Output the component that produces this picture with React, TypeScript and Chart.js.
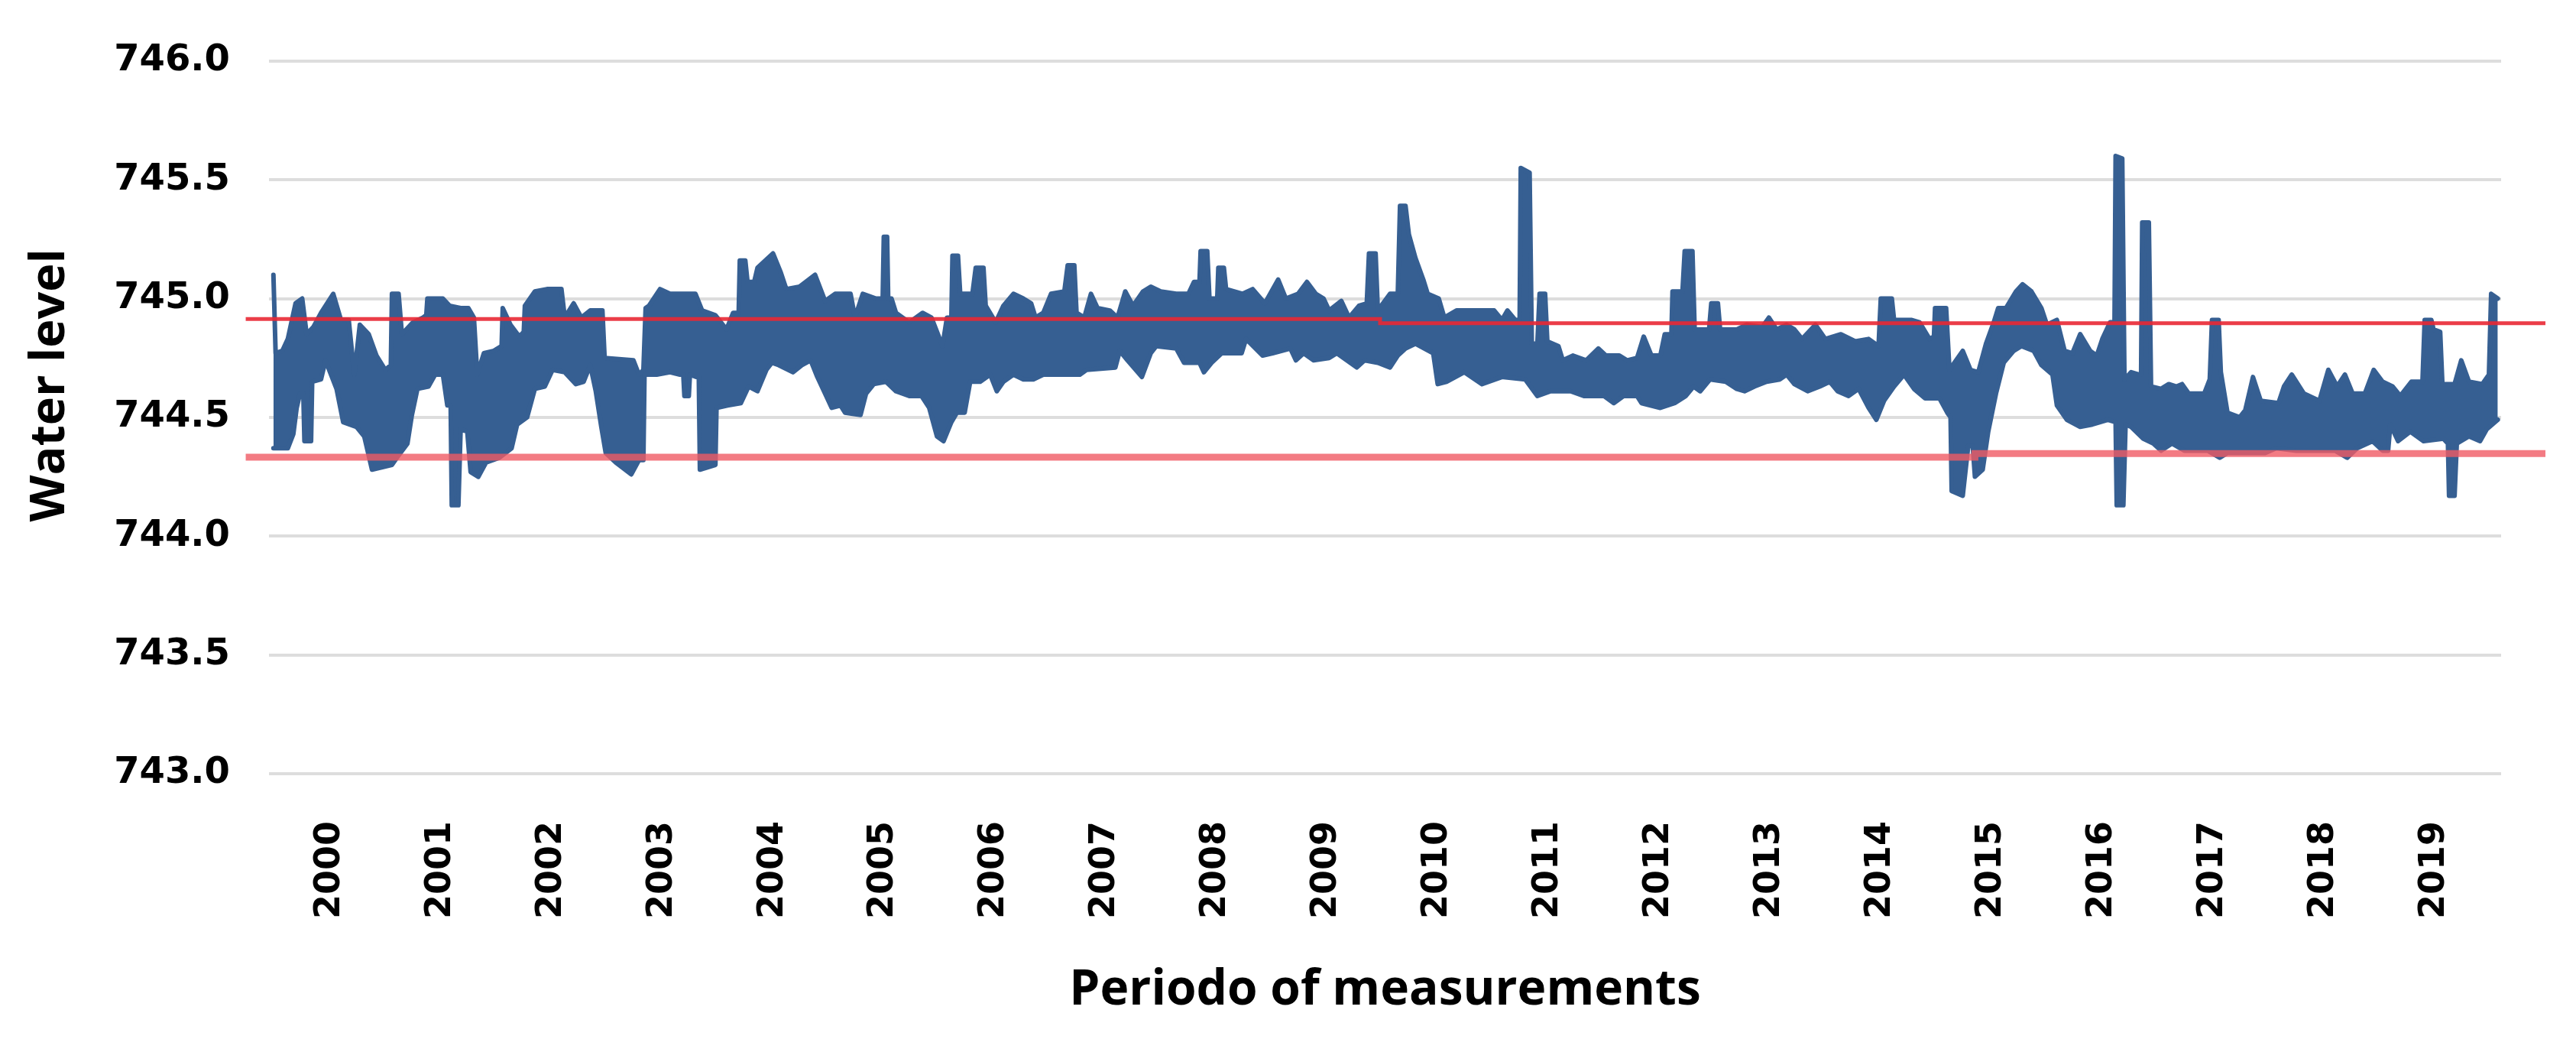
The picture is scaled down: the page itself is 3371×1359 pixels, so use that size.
import React, { useEffect, useRef } from 'react';
import { Chart, registerables } from 'chart.js';

Chart.register(...registerables);

// X axis: one category per year, label centred in the year
const yearLabels = ['2000', '2001', '2002', '2003', '2004', '2005', '2006', '2007', '2008', '2009',
  '2010', '2011', '2012', '2013', '2014', '2015', '2016', '2017', '2018', '2019'];
const firstYear = 2000;
const xMin = 1999.95;
const xMax = 2020.1;

// Y axis
const yMin = 743.0;
const yMax = 746.0;
const yStep = 0.5;

const xTitle = 'Periodo of measurements';
const yTitle = 'Water level';

// Upper edge of the daily water-level band [decimal year, level]
const upperBand: [number, number][] = [
  [1999.99, 745.10], [2000.01, 744.77], [2000.07, 744.78], [2000.12, 744.83], [2000.19, 744.98],
  [2000.25, 745.00], [2000.29, 744.85], [2000.35, 744.88], [2000.42, 744.94], [2000.53, 745.02],
  [2000.60, 744.91], [2000.67, 744.91], [2000.72, 744.68], [2000.77, 744.89], [2000.85, 744.85],
  [2000.92, 744.76], [2001.00, 744.70], [2001.05, 744.72], [2001.06, 745.02], [2001.12, 745.02],
  [2001.15, 744.85], [2001.25, 744.90], [2001.34, 744.92], [2001.37, 744.93], [2001.38, 745.00],
  [2001.52, 745.00], [2001.58, 744.97], [2001.68, 744.96], [2001.75, 744.96], [2001.80, 744.92],
  [2001.83, 744.68], [2001.89, 744.77], [2001.98, 744.78], [2002.05, 744.80], [2002.06, 744.96],
  [2002.13, 744.89], [2002.21, 744.84], [2002.25, 744.86], [2002.26, 744.97], [2002.35, 745.03],
  [2002.46, 745.04], [2002.59, 745.04], [2002.62, 744.92], [2002.70, 744.98], [2002.77, 744.92],
  [2002.85, 744.95], [2002.96, 744.95], [2002.98, 744.75], [2003.24, 744.74], [2003.29, 744.68],
  [2003.33, 744.70], [2003.35, 744.96], [2003.38, 744.97], [2003.48, 745.04], [2003.57, 745.02],
  [2003.80, 745.02], [2003.86, 744.95], [2003.98, 744.93], [2004.08, 744.87], [2004.14, 744.94],
  [2004.19, 744.94], [2004.20, 745.16], [2004.25, 745.16], [2004.27, 745.07], [2004.33, 745.07],
  [2004.36, 745.13], [2004.50, 745.19], [2004.57, 745.11], [2004.62, 745.04], [2004.74, 745.05],
  [2004.88, 745.10], [2004.97, 744.99], [2005.06, 745.02], [2005.20, 745.02], [2005.24, 744.92],
  [2005.31, 745.02], [2005.43, 745.00], [2005.49, 745.00], [2005.50, 745.26], [2005.53, 745.26],
  [2005.54, 745.00], [2005.57, 745.00], [2005.61, 744.94], [2005.73, 744.90], [2005.85, 744.94],
  [2005.93, 744.92], [2006.03, 744.80], [2006.07, 744.92], [2006.11, 744.92], [2006.12, 745.18],
  [2006.17, 745.18], [2006.19, 745.02], [2006.30, 745.02], [2006.33, 745.13], [2006.40, 745.13],
  [2006.42, 744.97], [2006.51, 744.90], [2006.58, 744.97], [2006.67, 745.02], [2006.76, 745.00],
  [2006.83, 744.98], [2006.87, 744.92], [2006.94, 744.94], [2007.01, 745.02], [2007.13, 745.03],
  [2007.16, 745.14], [2007.22, 745.14], [2007.24, 744.94], [2007.31, 744.92], [2007.37, 745.02],
  [2007.43, 744.96], [2007.54, 744.95], [2007.61, 744.92], [2007.68, 745.03], [2007.75, 744.97],
  [2007.84, 745.03], [2007.91, 745.05], [2008.00, 745.03], [2008.14, 745.02], [2008.25, 745.02],
  [2008.30, 745.07], [2008.35, 745.07], [2008.36, 745.20], [2008.42, 745.20], [2008.44, 745.00],
  [2008.51, 745.00], [2008.52, 745.13], [2008.57, 745.13], [2008.59, 745.04], [2008.74, 745.02],
  [2008.83, 745.04], [2008.94, 744.98], [2009.06, 745.08], [2009.13, 745.00], [2009.24, 745.02],
  [2009.32, 745.07], [2009.40, 745.02], [2009.47, 745.00], [2009.52, 744.95], [2009.63, 744.99],
  [2009.70, 744.92], [2009.79, 744.97], [2009.86, 744.98], [2009.88, 745.19], [2009.94, 745.19],
  [2009.96, 744.95], [2010.07, 745.02], [2010.14, 745.02], [2010.16, 745.39], [2010.21, 745.39],
  [2010.24, 745.27], [2010.30, 745.17], [2010.37, 745.08], [2010.41, 745.02], [2010.51, 745.00],
  [2010.56, 744.92], [2010.67, 744.95], [2011.01, 744.95], [2011.08, 744.91], [2011.13, 744.95],
  [2011.20, 744.91], [2011.24, 744.91], [2011.25, 745.55], [2011.33, 745.53], [2011.35, 744.81],
  [2011.40, 744.81], [2011.42, 745.02], [2011.47, 745.02], [2011.49, 744.82], [2011.59, 744.80],
  [2011.63, 744.74], [2011.72, 744.76], [2011.84, 744.74], [2011.95, 744.79], [2012.02, 744.76],
  [2012.14, 744.76], [2012.21, 744.74], [2012.30, 744.75], [2012.36, 744.84], [2012.43, 744.76],
  [2012.51, 744.76], [2012.55, 744.85], [2012.61, 744.85], [2012.62, 745.03], [2012.71, 745.03],
  [2012.73, 745.20], [2012.80, 745.20], [2012.82, 744.87], [2012.95, 744.87], [2012.97, 744.98],
  [2013.03, 744.98], [2013.05, 744.87], [2013.20, 744.87], [2013.29, 744.89], [2013.43, 744.88],
  [2013.49, 744.92], [2013.56, 744.87], [2013.65, 744.89], [2013.72, 744.87], [2013.79, 744.83],
  [2013.91, 744.89], [2014.00, 744.83], [2014.14, 744.85], [2014.27, 744.82], [2014.39, 744.83],
  [2014.48, 744.80], [2014.50, 745.00], [2014.60, 745.00], [2014.62, 744.91], [2014.78, 744.91],
  [2014.85, 744.90], [2014.94, 744.83], [2014.98, 744.84], [2014.99, 744.96], [2015.09, 744.96],
  [2015.12, 744.70], [2015.24, 744.78], [2015.31, 744.70], [2015.38, 744.69], [2015.45, 744.81],
  [2015.52, 744.90], [2015.56, 744.96], [2015.63, 744.96], [2015.72, 745.03], [2015.78, 745.06],
  [2015.86, 745.03], [2015.95, 744.96], [2016.00, 744.89], [2016.09, 744.91], [2016.16, 744.78],
  [2016.23, 744.77], [2016.30, 744.85], [2016.39, 744.78], [2016.45, 744.76], [2016.50, 744.83],
  [2016.57, 744.90], [2016.61, 744.90], [2016.62, 745.60], [2016.68, 745.59], [2016.70, 744.66],
  [2016.76, 744.69], [2016.83, 744.68], [2016.85, 744.68], [2016.86, 745.32], [2016.92, 745.32],
  [2016.94, 744.63], [2017.03, 744.62], [2017.10, 744.64], [2017.17, 744.63], [2017.22, 744.64],
  [2017.28, 744.60], [2017.42, 744.60], [2017.47, 744.66], [2017.49, 744.91], [2017.55, 744.91],
  [2017.57, 744.69], [2017.63, 744.52], [2017.74, 744.50], [2017.79, 744.53], [2017.86, 744.67],
  [2017.93, 744.57], [2018.09, 744.56], [2018.14, 744.63], [2018.21, 744.68], [2018.32, 744.60],
  [2018.46, 744.57], [2018.54, 744.70], [2018.62, 744.63], [2018.69, 744.68], [2018.76, 744.60],
  [2018.87, 744.60], [2018.95, 744.70], [2019.03, 744.65], [2019.12, 744.63], [2019.19, 744.59],
  [2019.29, 744.65], [2019.39, 744.65], [2019.41, 744.91], [2019.47, 744.91], [2019.49, 744.87],
  [2019.55, 744.86], [2019.57, 744.64], [2019.68, 744.64], [2019.74, 744.74], [2019.81, 744.65],
  [2019.93, 744.64], [2019.99, 744.68], [2020.01, 745.02], [2020.07, 745.00],
];

// Lower edge of the daily water-level band [decimal year, level]
const lowerBand: [number, number][] = [
  [1999.99, 744.37], [2000.12, 744.37], [2000.17, 744.43], [2000.20, 744.54], [2000.23, 744.60],
  [2000.26, 744.60], [2000.27, 744.40], [2000.33, 744.40], [2000.34, 744.65], [2000.42, 744.66],
  [2000.46, 744.74], [2000.56, 744.62], [2000.62, 744.48], [2000.74, 744.46], [2000.81, 744.42],
  [2000.88, 744.28], [2001.06, 744.30], [2001.12, 744.34], [2001.20, 744.39], [2001.24, 744.51],
  [2001.29, 744.62], [2001.39, 744.63], [2001.45, 744.68], [2001.52, 744.68], [2001.56, 744.55],
  [2001.59, 744.55], [2001.60, 744.13], [2001.66, 744.13], [2001.68, 744.45], [2001.74, 744.44],
  [2001.77, 744.27], [2001.84, 744.25], [2001.91, 744.31], [2002.03, 744.33], [2002.14, 744.37],
  [2002.19, 744.47], [2002.28, 744.50], [2002.35, 744.62], [2002.44, 744.63], [2002.51, 744.70],
  [2002.62, 744.69], [2002.72, 744.64], [2002.79, 744.65], [2002.85, 744.72], [2002.90, 744.61],
  [2002.95, 744.46], [2002.99, 744.35], [2003.08, 744.31], [2003.22, 744.26], [2003.29, 744.32],
  [2003.33, 744.32], [2003.34, 744.68], [2003.45, 744.68], [2003.57, 744.69], [2003.66, 744.68],
  [2003.69, 744.68], [2003.70, 744.59], [2003.74, 744.59], [2003.75, 744.68], [2003.81, 744.67],
  [2003.83, 744.67], [2003.84, 744.28], [2003.98, 744.30], [2003.99, 744.54], [2004.09, 744.55],
  [2004.21, 744.56], [2004.28, 744.63], [2004.36, 744.61], [2004.44, 744.70], [2004.49, 744.73],
  [2004.55, 744.72], [2004.68, 744.69], [2004.76, 744.72], [2004.84, 744.74], [2004.90, 744.67],
  [2004.97, 744.60], [2005.03, 744.54], [2005.11, 744.55], [2005.15, 744.52], [2005.29, 744.51],
  [2005.34, 744.60], [2005.41, 744.64], [2005.52, 744.65], [2005.61, 744.61], [2005.73, 744.59],
  [2005.84, 744.59], [2005.91, 744.54], [2005.98, 744.42], [2006.04, 744.40], [2006.11, 744.48],
  [2006.16, 744.52], [2006.23, 744.52], [2006.28, 744.65], [2006.37, 744.65], [2006.46, 744.68],
  [2006.52, 744.61], [2006.58, 744.65], [2006.67, 744.68], [2006.76, 744.66], [2006.85, 744.66],
  [2006.94, 744.68], [2007.10, 744.68], [2007.27, 744.68], [2007.33, 744.70], [2007.59, 744.71],
  [2007.63, 744.78], [2007.70, 744.74], [2007.83, 744.67], [2007.91, 744.77], [2007.96, 744.80],
  [2008.14, 744.79], [2008.21, 744.73], [2008.35, 744.73], [2008.39, 744.69], [2008.46, 744.73],
  [2008.55, 744.77], [2008.73, 744.77], [2008.77, 744.83], [2008.92, 744.76], [2009.01, 744.77],
  [2009.17, 744.79], [2009.22, 744.74], [2009.29, 744.77], [2009.38, 744.74], [2009.52, 744.75],
  [2009.59, 744.77], [2009.68, 744.74], [2009.77, 744.71], [2009.84, 744.74], [2009.96, 744.73],
  [2010.07, 744.71], [2010.14, 744.76], [2010.21, 744.79], [2010.30, 744.81], [2010.46, 744.77],
  [2010.50, 744.64], [2010.58, 744.65], [2010.74, 744.69], [2010.90, 744.64], [2011.08, 744.67],
  [2011.29, 744.66], [2011.40, 744.59], [2011.52, 744.61], [2011.70, 744.61], [2011.82, 744.59],
  [2012.00, 744.59], [2012.09, 744.56], [2012.18, 744.59], [2012.30, 744.59], [2012.34, 744.56],
  [2012.51, 744.54], [2012.64, 744.56], [2012.74, 744.59], [2012.81, 744.63], [2012.87, 744.61],
  [2012.96, 744.66], [2013.10, 744.65], [2013.20, 744.62], [2013.27, 744.61], [2013.36, 744.63],
  [2013.47, 744.65], [2013.59, 744.66], [2013.65, 744.68], [2013.72, 744.64], [2013.84, 744.61],
  [2013.95, 744.63], [2014.04, 744.65], [2014.11, 744.61], [2014.21, 744.59], [2014.30, 744.62],
  [2014.39, 744.54], [2014.46, 744.49], [2014.53, 744.57], [2014.62, 744.63], [2014.71, 744.68],
  [2014.80, 744.62], [2014.90, 744.58], [2015.03, 744.58], [2015.10, 744.52], [2015.13, 744.50],
  [2015.14, 744.19], [2015.24, 744.17], [2015.29, 744.38], [2015.33, 744.38], [2015.35, 744.25],
  [2015.42, 744.28], [2015.47, 744.44], [2015.54, 744.60], [2015.61, 744.73], [2015.70, 744.78],
  [2015.77, 744.80], [2015.88, 744.78], [2015.95, 744.72], [2016.05, 744.68], [2016.09, 744.55],
  [2016.18, 744.49], [2016.30, 744.46], [2016.41, 744.47], [2016.55, 744.49], [2016.62, 744.48],
  [2016.63, 744.13], [2016.69, 744.13], [2016.71, 744.47], [2016.76, 744.46], [2016.87, 744.41],
  [2016.96, 744.39], [2017.03, 744.36], [2017.13, 744.39], [2017.24, 744.36], [2017.45, 744.36],
  [2017.56, 744.33], [2017.63, 744.35], [2017.97, 744.35], [2018.07, 744.37], [2018.25, 744.36],
  [2018.60, 744.36], [2018.71, 744.33], [2018.80, 744.37], [2018.94, 744.40], [2019.03, 744.36],
  [2019.08, 744.36], [2019.10, 744.47], [2019.17, 744.40], [2019.28, 744.44], [2019.40, 744.40],
  [2019.58, 744.41], [2019.62, 744.39], [2019.63, 744.17], [2019.68, 744.17], [2019.70, 744.39],
  [2019.81, 744.42], [2019.91, 744.40], [2019.97, 744.45], [2020.07, 744.49],
];

// Red reference levels (stepped) [decimal year, level]
const upperLimit: [number, number][] = [[1999.74, 744.914], [2009.98, 744.896], [2020.5, 744.896]];
const lowerLimit: [number, number][] = [[1999.74, 744.332], [2015.35, 744.348], [2020.5, 744.348]];

const toPoints = (arr: [number, number][]) => arr.map(([x, y]) => ({ x, y }));

const BLUE = '#365F92';
const TITLE_FONT = "bold 63px 'Open Sans', sans-serif";

// Y-axis title, drawn a little above the middle of the plot as in the source figure
const yTitlePlugin = {
  id: 'yTitlePlugin',
  afterDraw(chart: any) {
    const { ctx, chartArea } = chart;
    const cy = (chartArea.top + chartArea.bottom) / 2 - 42;
    ctx.save();
    ctx.translate(66, cy);
    ctx.rotate(-Math.PI / 2);
    ctx.font = TITLE_FONT;
    ctx.fillStyle = '#000';
    ctx.textAlign = 'center';
    ctx.textBaseline = 'middle';
    ctx.fillText(yTitle, 0, 0);
    ctx.restore();
  },
};

export default function App() {
  const ref = useRef<HTMLCanvasElement>(null);

  useEffect(() => {
    document.body.style.margin = '0';
    const canvas = ref.current;
    if (!canvas) return;
    const chart = new Chart(canvas, {
      type: 'line',
      data: {
        datasets: [
          {
            label: 'Upper limit',
            data: toPoints(upperLimit),
            borderColor: 'rgba(233,40,52,0.9)',
            borderWidth: 5,
            stepped: true,
            pointRadius: 0,
            fill: false,
            clip: false,
          },
          {
            label: 'Lower limit',
            data: toPoints(lowerLimit),
            borderColor: 'rgba(240,90,100,0.8)',
            borderWidth: 9,
            stepped: true,
            pointRadius: 0,
            fill: false,
            clip: false,
          },
          {
            label: 'Water level (max)',
            data: toPoints(upperBand),
            borderColor: BLUE,
            backgroundColor: BLUE,
            borderWidth: 6,
            borderJoinStyle: 'round',
            borderCapStyle: 'round',
            pointRadius: 0,
            tension: 0,
            fill: false,
          },
          {
            label: 'Water level (min)',
            data: toPoints(lowerBand),
            borderColor: BLUE,
            backgroundColor: BLUE,
            borderWidth: 6,
            borderJoinStyle: 'round',
            borderCapStyle: 'round',
            pointRadius: 0,
            tension: 0,
            fill: '-1',
          },
        ],
      },
      options: {
        animation: false,
        responsive: false,
        maintainAspectRatio: false,
        devicePixelRatio: 1,
        layout: { padding: { left: 0, right: 98, top: 70, bottom: 0 } },
        plugins: {
          legend: { display: false },
          tooltip: { enabled: false },
        },
        scales: {
          x: {
            type: 'linear',
            min: xMin,
            max: xMax,
            grid: { display: false, drawTicks: false },
            border: { display: false },
            afterBuildTicks: (scale: any) => {
              scale.ticks = yearLabels.map((_, i) => ({ value: firstYear + i + 0.5 }));
            },
            afterFit: (scale: any) => {
              scale.height = 347;
            },
            ticks: {
              autoSkip: false,
              maxRotation: 90,
              minRotation: 90,
              padding: 62,
              color: '#000',
              font: { family: "'DejaVu Sans', sans-serif", weight: 'bold', size: 46 },
              callback: (value: any) => yearLabels[Math.round(Number(value) - firstYear - 0.5)] ?? '',
            },
            title: {
              display: true,
              text: xTitle,
              color: '#000',
              font: { family: "'Open Sans', sans-serif", weight: 'bold', size: 64 },
              padding: { top: 0, bottom: 25 },
            },
          },
          y: {
            type: 'linear',
            min: yMin,
            max: yMax,
            grid: { color: '#DDDDDD', lineWidth: 4, drawTicks: false },
            border: { display: false },
            afterFit: (scale: any) => {
              scale.width = 352;
            },
            ticks: {
              stepSize: yStep,
              padding: 51,
              color: '#000',
              font: { family: "'DejaVu Sans', sans-serif", weight: 'bold', size: 48 },
              callback: (value: any) => Number(value).toFixed(1),
            },
            title: { display: false },
          },
        },
      } as any,
      plugins: [yTitlePlugin],
    });
    return () => chart.destroy();
  }, []);

  return (
    <canvas
      ref={ref}
      width={3371}
      height={1359}
      style={{ display: 'block', width: '3371px', height: '1359px' }}
    />
  );
}
